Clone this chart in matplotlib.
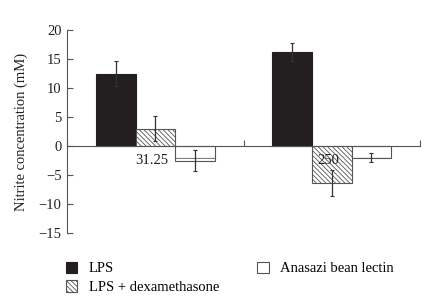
import matplotlib.pyplot as plt
import numpy as np

plt.rcParams['font.family'] = ['Liberation Serif', 'DejaVu Serif']
plt.rcParams['hatch.linewidth'] = 0.6

doses = ["31.25", "250"]
lps = [12.5, 16.2]
lps_err = [2.1, 1.5]
dexa = [3.0, -6.4]
dexa_err = [2.2, 2.3]
lectin = [-2.5, -2.0]
lectin_err = [1.8, 0.8]

fig = plt.figure(figsize=(4.42, 3.01), dpi=100)
ax = fig.add_axes([0.152, 0.226, 0.798, 0.674])

x = np.arange(len(doses)) + 0.5
w = 0.225
ekw = dict(ecolor="#333333", elinewidth=0.9, capsize=1.5, capthick=0.8)

ax.bar(x - w, lps, w, yerr=lps_err, color="#231f20", edgecolor="#231f20",
       linewidth=0.8, error_kw=ekw, label="LPS")
plt.rcParams['hatch.color'] = "#999999"
ax.bar(x, dexa, w, yerr=dexa_err, color="white", edgecolor="#555555",
       hatch="\\" * 7, linewidth=0.8, error_kw=ekw, label="LPS + dexamethasone")
plt.rcParams['hatch.color'] = "#e0e0e0"
ax.bar(x + w, lectin, w, yerr=lectin_err, color="white", edgecolor="#555555",
       hatch="-", linewidth=0.8, error_kw=ekw, label="Anasazi bean lectin")

for xi, d in zip(x, doses):
    ax.text(xi - 0.02, -1.4, d, ha="center", va="top", fontsize=10.5, color="#231f20")

ax.set_xlim(0, 2)
ax.set_ylim(-15, 20)
ax.set_yticks([-15, -10, -5, 0, 5, 10, 15, 20])
ax.set_xticks([0, 1, 2])
ax.set_xticklabels([])
ax.spines["bottom"].set_position(("data", 0))
ax.spines["top"].set_visible(False)
ax.spines["right"].set_visible(False)
for s in ["left", "bottom"]:
    ax.spines[s].set_color("#555555")
    ax.spines[s].set_linewidth(0.8)
ax.tick_params(axis="both", direction="in", length=4, width=0.8,
               color="#555555", labelsize=10.5, labelcolor="#231f20")
ax.tick_params(axis="y", pad=4)
ax.set_ylabel("Nitrite concentration (mM)", fontsize=10.5, color="#231f20", labelpad=8)

fig.legend(loc="upper left", bbox_to_anchor=(0.135, 0.15), ncol=2, frameon=False,
           fontsize=10.5, handlelength=0.8, handleheight=0.8, columnspacing=2.6,
           labelspacing=0.35, handletextpad=0.8, borderaxespad=0)

fig.savefig("out.png", dpi=100)
